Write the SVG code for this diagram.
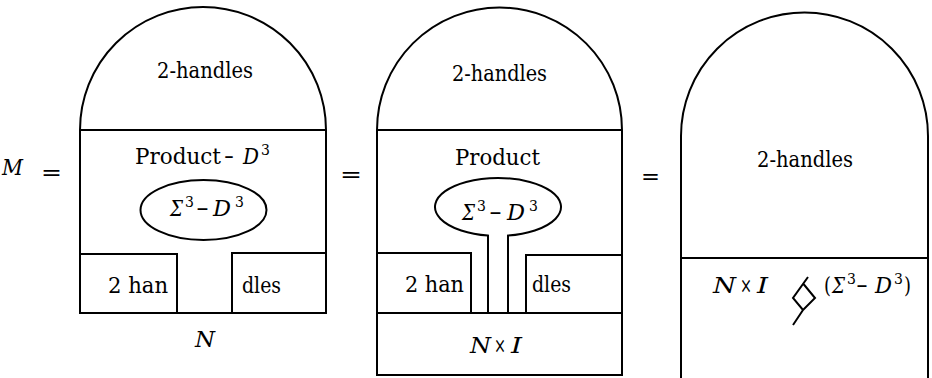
<svg xmlns="http://www.w3.org/2000/svg" width="932" height="378" viewBox="0 0 932 378">
<style>
.ln{fill:none;stroke:#000;stroke-width:2;stroke-linejoin:miter}
.t{font-family:'DejaVu Serif','Liberation Serif','Times New Roman',serif;font-size:22px;fill:#000}
.i{font-style:italic}
.s{font-size:14px}
</style>
<rect width="932" height="378" fill="#fff"/>
<g id="lhs">
<text class="t i" x="2" y="175" textLength="21" lengthAdjust="spacingAndGlyphs">M</text>
<text class="t" x="41" y="180" textLength="21" lengthAdjust="spacingAndGlyphs">=</text>
</g>
<g id="panel1">
<path class="ln" d="M80,313 L80,130 A123,123 0 0 1 326,130 L326,313 Z"/>
<path class="ln" d="M80,130 L326,130"/>
<path class="ln" d="M80,254 L177,254 L177,313"/>
<path class="ln" d="M232,313 L232,253 L326,253"/>
<ellipse class="ln" cx="203.5" cy="210" rx="63" ry="30"/>
<text class="t" x="157" y="78" textLength="96" lengthAdjust="spacingAndGlyphs">2-handles</text>
<text class="t" x="135" y="164" textLength="86" lengthAdjust="spacingAndGlyphs">Product</text>
<text class="t" x="224" y="164" textLength="10" lengthAdjust="spacingAndGlyphs">−</text>
<text class="t i" x="243" y="164" textLength="16" lengthAdjust="spacingAndGlyphs">D</text>
<text class="t s" x="261" y="155">3</text>
<text class="t i" x="170" y="216" textLength="13" lengthAdjust="spacingAndGlyphs">Σ</text>
<text class="t s" x="185" y="207">3</text>
<text class="t" x="196" y="216" textLength="13" lengthAdjust="spacingAndGlyphs">−</text>
<text class="t i" x="213" y="216" textLength="18" lengthAdjust="spacingAndGlyphs">D</text>
<text class="t s" x="235" y="207">3</text>
<text class="t" x="108" y="293" textLength="60" lengthAdjust="spacingAndGlyphs">2 han</text>
<text class="t" x="242" y="293" textLength="39" lengthAdjust="spacingAndGlyphs">dles</text>
<text class="t i" x="195" y="347" textLength="20" lengthAdjust="spacingAndGlyphs">N</text>
</g>
<g id="eq1">
<text class="t" x="340" y="182" textLength="22" lengthAdjust="spacingAndGlyphs">=</text>
</g>
<g id="panel2">
<path class="ln" d="M377,375 L377,130 A122.5,122.5 0 0 1 622,130 L622,375 Z"/>
<path class="ln" d="M377,130 L622,130"/>
<path class="ln" d="M377,313 L622,313"/>
<path class="ln" d="M377,253 L471,253 L471,313"/>
<path class="ln" d="M526,313 L526,255 L622,255"/>
<path class="ln" d="M488,313 L488,235.6 A63,29 0 1 1 508,235.6 L508,313"/>
<text class="t" x="452" y="81" textLength="95" lengthAdjust="spacingAndGlyphs">2-handles</text>
<text class="t" x="455" y="165" textLength="85" lengthAdjust="spacingAndGlyphs">Product</text>
<text class="t i" x="462" y="220" textLength="13" lengthAdjust="spacingAndGlyphs">Σ</text>
<text class="t s" x="477" y="211">3</text>
<text class="t" x="489" y="220" textLength="13" lengthAdjust="spacingAndGlyphs">−</text>
<text class="t i" x="507" y="220" textLength="18" lengthAdjust="spacingAndGlyphs">D</text>
<text class="t s" x="529" y="211">3</text>
<text class="t" x="405" y="292" textLength="59" lengthAdjust="spacingAndGlyphs">2 han</text>
<text class="t" x="532" y="292" textLength="39" lengthAdjust="spacingAndGlyphs">dles</text>
<text class="t i" x="470" y="353" textLength="21" lengthAdjust="spacingAndGlyphs">N</text>
<text class="t" x="494" y="353" textLength="12" lengthAdjust="spacingAndGlyphs">×</text>
<text class="t i" x="511" y="353" textLength="11" lengthAdjust="spacingAndGlyphs">I</text>
</g>
<g id="eq2">
<text class="t" x="641" y="184" textLength="19" lengthAdjust="spacingAndGlyphs">=</text>
</g>
<g id="panel3">
<path class="ln" d="M681,380 L681,136 A123.5,123.5 0 0 1 928,136 L928,380"/>
<path class="ln" d="M681,258 L928,258"/>
<text class="t" x="757" y="167" textLength="96" lengthAdjust="spacingAndGlyphs">2-handles</text>
<text class="t i" x="713" y="293" textLength="23" lengthAdjust="spacingAndGlyphs">N</text>
<text class="t" x="740" y="293" textLength="12" lengthAdjust="spacingAndGlyphs">×</text>
<text class="t i" x="757" y="293" textLength="11" lengthAdjust="spacingAndGlyphs">I</text>
<path class="ln" d="M808,277 L793,298 L803,310 L815,298 L803.5,284 M803,310 L793,325"/>
<text class="t" x="824" y="293" textLength="7" lengthAdjust="spacingAndGlyphs">(</text>
<text class="t i" x="832" y="293" textLength="13" lengthAdjust="spacingAndGlyphs">Σ</text>
<text class="t s" x="847" y="284">3</text>
<text class="t" x="856" y="293" textLength="12" lengthAdjust="spacingAndGlyphs">−</text>
<text class="t i" x="875" y="293" textLength="17" lengthAdjust="spacingAndGlyphs">D</text>
<text class="t s" x="894" y="284">3</text>
<text class="t" x="904" y="293" textLength="7" lengthAdjust="spacingAndGlyphs">)</text>
</g>
</svg>
